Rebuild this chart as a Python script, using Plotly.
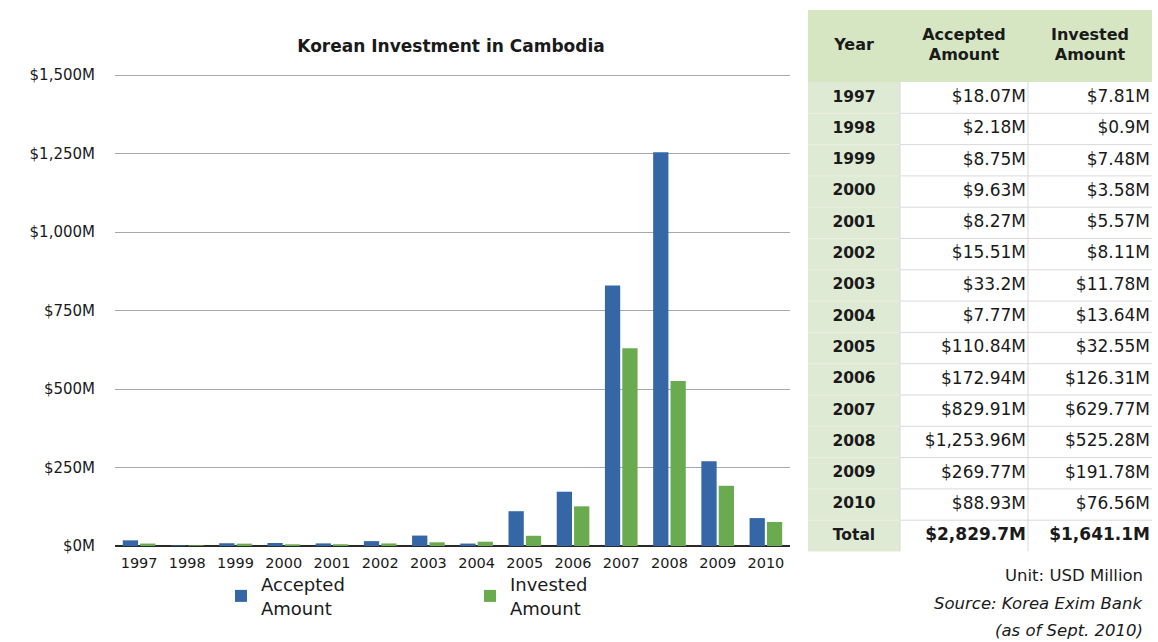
import plotly.graph_objects as go

# Korea Exim Bank figures, USD million
years = ["1997", "1998", "1999", "2000", "2001", "2002", "2003",
         "2004", "2005", "2006", "2007", "2008", "2009", "2010"]
accepted = [18.07, 2.18, 8.75, 9.63, 8.27, 15.51, 33.2,
            7.77, 110.84, 172.94, 829.91, 1253.96, 269.77, 88.93]
invested = [7.81, 0.9, 7.48, 3.58, 5.57, 8.11, 11.78,
            13.64, 32.55, 126.31, 629.77, 525.28, 191.78, 76.56]
y_ticks = [0, 250, 500, 750, 1000, 1250, 1500]
y_tick_labels = ["$0M", "$250M", "$500M", "$750M", "$1,000M", "$1,250M", "$1,500M"]
table_headers = ["Year", "Accepted<br>Amount", "Invested<br>Amount"]
notes = ["Unit: USD Million", "<i>Source: Korea Exim Bank</i>", "<i>(as of Sept. 2010)</i>"]

BLUE = "#3567a6"
GREEN = "#6aab4f"
HEAD_FILL = "#d6e6c3"
YEAR_FILL = "#dfead4"
TXT = "#1a1a1a"
FONT = "DejaVu Sans, Verdana, sans-serif"
W, H = 1158, 642

# value axis: 0 sits at y=546px, 1500 at y=75px; a little headroom keeps the top rule visible
Y_MAX = 1515
PX_PER_UNIT = (546 - 75) / 1500
Y_TOP_PX = 546 - Y_MAX * PX_PER_UNIT

# table geometry (in table-axis units = pixels)
TABLE_TOP = 10
COL_W = [92, 128, 124]
HEAD_H = 72
ROW_H = 31.3


def money(v):
    return f"${v:,}M"


fig = go.Figure()

# ---- bar chart ----
fig.add_trace(go.Bar(x=years, y=accepted, name="Accepted<br>Amount",
                     marker=dict(color=BLUE, line=dict(width=0)),
                     xaxis="x", yaxis="y"))
fig.add_trace(go.Bar(x=years, y=invested, name="Invested<br>Amount",
                     marker=dict(color=GREEN, line=dict(width=0)),
                     xaxis="x", yaxis="y"))

# ---- table, drawn on its own pair of axes ----
tot_acc = round(sum(accepted), 1)
tot_inv = round(sum(invested), 1)
row_labels = years + ["Total"]
acc_txt = [money(v) for v in accepted] + [f"<b>{money(tot_acc)}</b>"]
inv_txt = [money(v) for v in invested] + [f"<b>{money(tot_inv)}</b>"]
n_rows = len(row_labels)

x_edges = [0, COL_W[0], COL_W[0] + COL_W[1], sum(COL_W)]
y_edges = [0, HEAD_H] + [HEAD_H + ROW_H * (i + 1) for i in range(n_rows)]
y_mid = [(y_edges[i] + y_edges[i + 1]) / 2 for i in range(n_rows + 1)]
x_mid = [(x_edges[i] + x_edges[i + 1]) / 2 for i in range(3)]

# cell fill classes: 0 header, 1 year column, 2 white value cell
z = [[0, 0, 0]] + [[1, 2, 2] for _ in range(n_rows)]
fig.add_trace(go.Heatmap(
    x=x_edges, y=y_edges, z=z, zmin=0, zmax=2,
    colorscale=[[0, HEAD_FILL], [0.33, HEAD_FILL], [0.33, YEAR_FILL],
                [0.66, YEAR_FILL], [0.66, "#ffffff"], [1, "#ffffff"]],
    showscale=False, hoverinfo="skip", xaxis="x2", yaxis="y2"))

# cell rules
lx, ly = [], []
for ye in y_edges[2:-1]:
    lx += [x_edges[1], x_edges[3], None]
    ly += [ye, ye, None]
for xe in x_edges[1:3]:
    lx += [xe, xe, None]
    ly += [y_edges[1], y_edges[-1], None]
fig.add_trace(go.Scatter(x=lx, y=ly, mode="lines",
                         line=dict(color="#d9d9d9", width=1),
                         hoverinfo="skip", showlegend=False,
                         xaxis="x2", yaxis="y2"))
# faint rules inside the green year column
gx, gy = [], []
for ye in y_edges[2:-1]:
    gx += [x_edges[0], x_edges[1], None]
    gy += [ye, ye, None]
fig.add_trace(go.Scatter(x=gx, y=gy, mode="lines",
                         line=dict(color="#e9efe3", width=1),
                         hoverinfo="skip", showlegend=False,
                         xaxis="x2", yaxis="y2"))

# header text
fig.add_trace(go.Scatter(
    x=x_mid, y=[y_mid[0]] * 3, mode="text",
    text=[f"<b>{h}</b>" for h in table_headers], textposition="middle center",
    textfont=dict(family=FONT, size=16, color=TXT),
    hoverinfo="skip", showlegend=False, xaxis="x2", yaxis="y2"))
# year column
fig.add_trace(go.Scatter(
    x=[x_mid[0]] * n_rows, y=y_mid[1:], mode="text",
    text=[f"<b>{r}</b>" for r in row_labels], textposition="middle center",
    textfont=dict(family=FONT, size=15.5, color=TXT),
    hoverinfo="skip", showlegend=False, xaxis="x2", yaxis="y2"))
# value columns, right aligned
for col, txt in ((2, acc_txt), (3, inv_txt)):
    fig.add_trace(go.Scatter(
        x=[x_edges[col] - 2] * n_rows, y=y_mid[1:], mode="text",
        text=txt, textposition="middle left",
        textfont=dict(family=FONT, size=17, color=TXT),
        hoverinfo="skip", showlegend=False, xaxis="x2", yaxis="y2"))

blank_axis = dict(showgrid=False, zeroline=False, showticklabels=False,
                  ticks="", showline=False, fixedrange=True, automargin=False)

fig.update_layout(
    template="none",
    width=W, height=H,
    margin=dict(l=0, r=0, t=0, b=0, autoexpand=False),
    paper_bgcolor="white", plot_bgcolor="white",
    font=dict(family=FONT, color=TXT),
    barmode="group", bargap=0.28, bargroupgap=0.12,
    title=dict(text="<b>Korean Investment in Cambodia</b>",
               x=451 / W, xanchor="center", y=1 - 46 / H, yanchor="middle",
               font=dict(family=FONT, size=17, color=TXT)),
    xaxis=dict(type="category", domain=[115 / W, 790 / W], showgrid=False,
               ticks="", tickfont=dict(family=FONT, size=14.5, color=TXT),
               ticklabelstandoff=6,
               showline=False, zeroline=False, automargin=False),
    yaxis=dict(domain=[1 - 546 / H, 1 - Y_TOP_PX / H], range=[0, Y_MAX],
               tickvals=y_ticks, ticktext=y_tick_labels,
               tickfont=dict(family=FONT, size=15, color=TXT),
               showgrid=True, gridcolor="#a8a8a8", gridwidth=1,
               zeroline=True, zerolinecolor="#2a2a2a", zerolinewidth=2,
               ticks="", ticklabelstandoff=19, showline=False,
               automargin=False),
    xaxis2=dict(domain=[808 / W, 1152 / W], range=[0, sum(COL_W)], **blank_axis),
    yaxis2=dict(domain=[1 - (TABLE_TOP + y_edges[-1]) / H, 1 - TABLE_TOP / H],
                range=[y_edges[-1], 0], **blank_axis),
    showlegend=True,
    legend=dict(orientation="h", x=221 / W, xanchor="left",
                y=1 - 566 / H, yanchor="top",
                entrywidth=204, itemwidth=30,
                font=dict(family=FONT, size=18, color=TXT),
                bgcolor="rgba(0,0,0,0)"),
    annotations=[
        dict(text=t, x=1145 / W, y=1 - yy / H,
             xref="paper", yref="paper", xanchor="right", yanchor="middle",
             showarrow=False, font=dict(family=FONT, size=16.5, color=TXT))
        for t, yy in zip(notes, (575, 603, 630))
    ],
)

fig.write_html("out.html")
